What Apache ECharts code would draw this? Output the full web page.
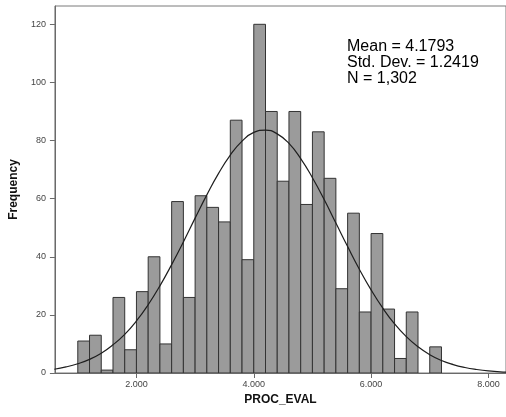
<!DOCTYPE html>
<html>
<head>
<meta charset="utf-8">
<script src="https://cdn.jsdelivr.net/npm/echarts@6/dist/echarts.min.js"></script>
<style>
html,body{margin:0;padding:0;background:#fff;}
#chart{width:506px;height:417px;}
</style>
</head>
<body>
<div id="chart"></div>
<script>
// Histogram bins (lower edges), bin width and counts
const binStarts = [1.0,1.2,1.4,1.6,1.8,2.0,2.2,2.4,2.6,2.8,3.0,3.2,3.4,3.6,3.8,4.0,4.2,4.4,4.6,4.8,5.0,5.2,5.4,5.6,5.8,6.0,6.2,6.4,6.6,6.8,7.0];
const binWidth = 0.2;
const counts = [11,13,1,26,8,28,40,10,59,26,61,57,52,87,39,120,90,66,90,58,83,67,29,55,21,48,22,5,21,0,9];

// Normal curve points
const curveX = [0.6,0.8,1.0,1.2,1.4,1.6,1.8,2.0,2.2,2.4,2.6,2.8,3.0,3.2,3.4,3.6,3.8,4.0,4.2,4.4,4.6,4.8,5.0,5.2,5.4,5.6,5.8,6.0,6.2,6.4,6.6,6.8,7.0,7.2,7.4,7.6,7.8,8.0,8.2,8.4];
const curveY = [1.3,2.1,3.2,4.7,6.8,9.7,13.3,17.9,23.5,30.0,37.3,45.1,53.3,61.3,68.7,75.0,79.8,82.8,83.6,82.3,79.0,73.8,67.2,59.7,51.6,43.5,35.7,28.6,22.3,16.9,12.5,9.0,6.3,4.3,2.9,1.9,1.2,0.7,0.4,0.3];

// Axis ticks
const xTicks = [2,4,6,8];
const yTicks = [0,20,40,60,80,100,120];

const statsLines = ['Mean = 4.1793','Std. Dev. = 1.2419','N = 1,302'];

const barData = binStarts.map((s,i)=>[s, +(s+binWidth).toFixed(2), counts[i]]);
const lineData = curveX.map((x,i)=>[x, curveY[i]]);

const chart = echarts.init(document.getElementById('chart'), null, {renderer:'canvas'});
const FONT = '"Liberation Sans", Arial, sans-serif';
chart.setOption({
  animation:false,
  backgroundColor:'#ffffff',
  grid:{left:52, right:-2, top:6, bottom:44, show:true, borderColor:'#7a7a7a', borderWidth:1, backgroundColor:'transparent'},
  xAxis:{
    type:'value', min:0.61, max:8.30,
    name:'PROC_EVAL', nameLocation:'middle', nameGap:18,
    nameTextStyle:{fontFamily:FONT, fontSize:12, fontWeight:'bold', color:'#111'},
    axisLine:{show:true, lineStyle:{color:'#6a6a6a', width:1}},
    axisTick:{show:true, length:5, customValues:xTicks, lineStyle:{color:'#6a6a6a'}},
    axisLabel:{customValues:xTicks, formatter:v=>Number(v).toFixed(3), margin:7, fontFamily:FONT, fontSize:9, color:'#444'},
    splitLine:{show:false}
  },
  yAxis:{
    type:'value', min:0, max:126.3,
    name:'Frequency', nameLocation:'middle', nameGap:28, nameRotate:90,
    nameTextStyle:{fontFamily:FONT, fontSize:12, fontWeight:'bold', color:'#111'},
    axisLine:{show:true, lineStyle:{color:'#6a6a6a', width:1}},
    axisTick:{show:true, length:5, customValues:yTicks, lineStyle:{color:'#6a6a6a'}},
    axisLabel:{customValues:yTicks, margin:9, fontFamily:FONT, fontSize:9, color:'#444'},
    splitLine:{show:false}
  },
  series:[
    {
      type:'custom',
      data:barData,
      encode:{x:[0,1], y:2},
      clip:true,
      renderItem:function(params, api){
        const x0 = api.value(0), x1 = api.value(1), y = api.value(2);
        if (!y) return null;
        const p0 = api.coord([x0, y]);
        const p1 = api.coord([x1, 0]);
        return {
          type:'rect',
          shape:{x:p0[0], y:p0[1], width:p1[0]-p0[0], height:p1[1]-p0[1]},
          style:{fill:'#9b9b9b', stroke:'#333333', lineWidth:1}
        };
      },
      z:2
    },
    {
      type:'line',
      data:lineData,
      smooth:true,
      showSymbol:false,
      clip:true,
      lineStyle:{color:'#1e1e1e', width:1.2},
      z:3
    }
  ],
  graphic:[
    {
      type:'text', left:347, top:39,
      style:{text:statsLines.join('\n'), font:'16px "Liberation Sans", Arial, sans-serif', fill:'#000', lineHeight:16}
    }
  ]
});
</script>
</body>
</html>
